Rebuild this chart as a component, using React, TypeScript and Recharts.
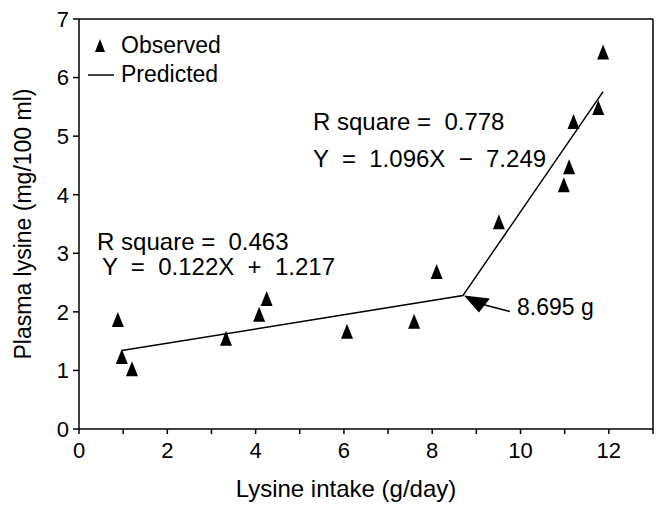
import React from "react";
import {
  ComposedChart,
  Scatter,
  XAxis,
  YAxis,
  Legend,
  Label,
  ReferenceLine,
  ReferenceDot,
} from "recharts";

// observed plasma lysine vs lysine intake
const intake = [0.88, 0.97, 1.2, 3.33, 4.08, 4.25, 6.07, 7.59, 8.1, 9.51, 10.98, 11.1, 11.2, 11.76, 11.87];
const plasma = [1.86, 1.23, 1.02, 1.54, 1.95, 2.22, 1.66, 1.83, 2.68, 3.53, 4.16, 4.47, 5.24, 5.48, 6.43];

// broken-line fit: start, breakpoint, end
const fitX = [0.97, 8.695, 11.87];
const fitY = [1.34, 2.278, 5.76];

const xTicks = [0, 1, 2, 3, 4, 5, 6, 7, 8, 9, 10, 11, 12, 13];
const yTicks = [0, 1, 2, 3, 4, 5, 6, 7];

const observed = intake.map((x, i) => ({ x, y: plasma[i] }));
const predicted = fitX.map((x, i) => ({ x, y: fitY[i] }));

const FONT = "'Liberation Sans', Arial, Helvetica, sans-serif";
const INK = "#000";

const Triangle = (props: any) => {
  const { cx, cy } = props;
  if (cx == null || cy == null) return null;
  return <polygon points={`${cx},${cy - 8} ${cx - 6},${cy + 7} ${cx + 6},${cy + 7}`} fill={INK} />;
};

const NoDot = () => null;

const textAt = (label: string, size = 24) => (props: any) => {
  const { cx, cy } = props;
  if (cx == null || cy == null) return null;
  return (
    <text x={cx} y={cy} fontSize={size} fill={INK} fontFamily={FONT} style={{ whiteSpace: "pre" }}>
      {label}
    </text>
  );
};

const Arrow = (props: any) => {
  const { cx, cy } = props;
  if (cx == null || cy == null) return null;
  // head pointing at the breakpoint from the lower right
  return (
    <g>
      <polygon points={`${cx + 1},${cy} ${cx + 16},${cy + 17} ${cx + 27},${cy + 3}`} fill={INK} />
      <line x1={cx + 20} y1={cy + 9} x2={cx + 47} y2={cy + 16} stroke={INK} strokeWidth={1.6} />
    </g>
  );
};

const LegendBox = () => (
  <div style={{ fontFamily: FONT, fontSize: 23, color: INK, lineHeight: "29px" }}>
    <div style={{ display: "flex", alignItems: "center" }}>
      <svg width={36} height={29}>
        <polygon points="15,8 10,21 20,21" fill={INK} />
      </svg>
      <span>Observed</span>
    </div>
    <div style={{ display: "flex", alignItems: "center" }}>
      <svg width={36} height={29}>
        <line x1={3} y1={15} x2={29} y2={15} stroke={INK} strokeWidth={1.5} />
      </svg>
      <span>Predicted</span>
    </div>
  </div>
);

const YTitle = (props: any) => {
  const { viewBox } = props;
  const cx = 23;
  const cy = viewBox.y + viewBox.height / 2;
  return (
    <text x={cx} y={cy} transform={`rotate(-90 ${cx} ${cy})`} textAnchor="middle" dominantBaseline="central"
      fontSize={23} fill={INK} fontFamily={FONT}>
      Plasma lysine (mg/100 ml)
    </text>
  );
};

const XTitle = (props: any) => {
  const { viewBox } = props;
  const cx = viewBox.x + viewBox.width / 2 - 20;
  return (
    <text x={cx} y={497} textAnchor="middle" fontSize={24} fill={INK} fontFamily={FONT}>
      Lysine intake (g/day)
    </text>
  );
};

export default function App() {
  return (
    <div style={{ position: "absolute", left: 0, top: 0, background: "#fff", fontFamily: FONT }}>
      <ComposedChart width={656} height={510} margin={{ top: 19, right: 3, bottom: 0, left: 7 }}>
        <XAxis
          type="number"
          dataKey="x"
          domain={[0, 13]}
          ticks={xTicks}
          allowDataOverflow
          tickFormatter={(v: number) => (v % 2 === 0 && v < 13 ? String(v) : "")}
          tick={{ fill: INK, fontSize: 22, fontFamily: FONT }}
          tickSize={5}
          tickMargin={8}
          height={81}
          axisLine={{ stroke: INK, strokeWidth: 1.5 }}
          tickLine={{ stroke: INK, strokeWidth: 1.5 }}
        >
          <Label content={<XTitle />} />
        </XAxis>
        <YAxis
          type="number"
          dataKey="y"
          domain={[0, 7]}
          ticks={yTicks}
          allowDataOverflow
          tick={{ fill: INK, fontSize: 22, fontFamily: FONT }}
          tickSize={6}
          tickMargin={4}
          width={72}
          axisLine={{ stroke: INK, strokeWidth: 1.5 }}
          tickLine={{ stroke: INK, strokeWidth: 1.5 }}
        >
          <Label content={<YTitle />} />
        </YAxis>
        <ReferenceLine y={7} stroke={INK} strokeWidth={1.5} />
        <ReferenceLine x={13} stroke={INK} strokeWidth={1.5} />
        <Scatter
          name="Predicted"
          data={predicted}
          line={{ stroke: INK, strokeWidth: 1.5 }}
          lineType="joint"
          shape={<NoDot />}
          isAnimationActive={false}
        />
        <Scatter name="Observed" data={observed} shape={<Triangle />} isAnimationActive={false} />
        <ReferenceDot x={0.41} y={3.05} r={0} shape={textAt("R square =  0.463")} />
        <ReferenceDot x={0.52} y={2.63} r={0} shape={textAt("Y  =  0.122X  +  1.217")} />
        <ReferenceDot x={5.3} y={5.1} r={0} shape={textAt("R square =  0.778")} />
        <ReferenceDot x={5.3} y={4.47} r={0} shape={textAt("Y  =  1.096X  \u2212  7.249")} />
        <ReferenceDot x={fitX[1]} y={fitY[1]} r={0} shape={<Arrow />} />
        <ReferenceDot x={9.92} y={1.95} r={0} shape={textAt("8.695 g", 23)} />
        <Legend
          layout="vertical"
          align="center"
          verticalAlign="middle"
          content={<LegendBox />}
          wrapperStyle={{ position: "absolute", left: 85, top: 31, width: 160 }}
        />
      </ComposedChart>
    </div>
  );
}
